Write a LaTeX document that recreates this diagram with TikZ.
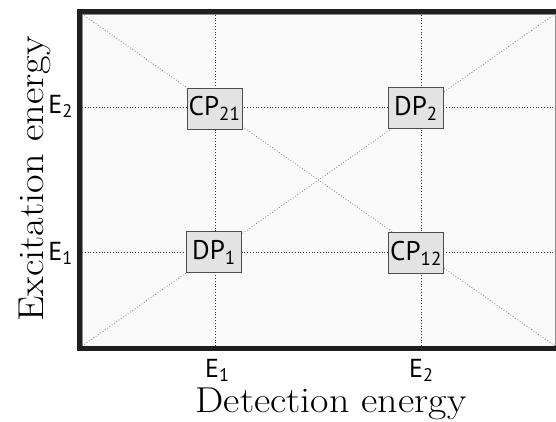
\documentclass[tikz,border=0pt]{standalone}
\usepackage{fontspec}
\newfontfamily\labelfont{PT Sans}
\newcommand\ticksize{\fontsize{26}{28}\selectfont}
\newcommand\boxsize{\fontsize{27}{30}\selectfont}
\begin{document}
\begin{tikzpicture}[x=1pt,y=1pt,
  pbox/.style={draw=black!70, fill=black!11, line width=0.8pt, minimum width=55pt, minimum height=41pt, inner sep=0pt, font={\labelfont\boxsize}},
  ticklabel/.style={font={\labelfont\ticksize}, inner sep=0pt},
  gridline/.style={black!80, dotted, line width=0.8pt},
  diagline/.style={black!50, dotted, line width=0.8pt},
  axislabel/.style={font={\fontsize{36}{40}\selectfont}, inner sep=0pt}]
\useasboundingbox (0,0) rectangle (556,421);
% plot area
\fill[black!2] (82,75) rectangle (555,407);
\draw[black!45, line width=0.8pt] (82,75) rectangle (555,407);
% frame corners
\coordinate (bl) at (82,75);
\coordinate (tl) at (82,407);
\coordinate (br) at (555,75);
\coordinate (tr) at (555,407);
% grid end points
\coordinate (xa0) at (215,75);  \coordinate (xa1) at (215,407);
\coordinate (xb0) at (421,75);  \coordinate (xb1) at (421,407);
\coordinate (ya0) at (82,168.5); \coordinate (ya1) at (555,168.5);
\coordinate (yb0) at (82,314);   \coordinate (yb1) at (555,314);
% diagonals
\draw[diagline] (tl) -- (br);
\draw[diagline] (bl) -- (tr);
% grid lines
\draw[gridline] (xa0) -- (xa1);
\draw[gridline] (xb0) -- (xb1);
\draw[gridline] (ya0) -- (ya1);
\draw[gridline] (yb0) -- (yb1);
% thick frame
\draw[line width=5pt, black!88, line join=miter] (565,72.5) -- (79.5,72.5) -- (79.5,409.5) -- (565,409.5);
% peak boxes
\node[pbox] (cp21) at (214.5,312.5) {CP\textsubscript{21}};
\node[pbox] (dp2)  at (416,313) {DP\textsubscript{2}};
\node[pbox] (dp1)  at (214,169) {DP\textsubscript{1}};
\node[pbox] (cp12) at (416,168) {CP\textsubscript{12}};
% tick labels
\node[ticklabel, anchor=base east] (ye2) at (73,307.5) {E\textsubscript{2}};
\node[ticklabel, anchor=base east] (ye1) at (73,161) {E\textsubscript{1}};
\node[ticklabel, anchor=base west] (xe1) at (205,44) {E\textsubscript{1}};
\node[ticklabel, anchor=base west] (xe2) at (409,44) {E\textsubscript{2}};
% axis labels
\node[axislabel, anchor=base] (xlab) at (331,9) {\scalebox{1.11}[1]{Detection energy}};
\node[axislabel, anchor=base, rotate=90] (ylab) at (43,242) {\scalebox{1.12}[1]{Excitation energy}};
\end{tikzpicture}
\end{document}
